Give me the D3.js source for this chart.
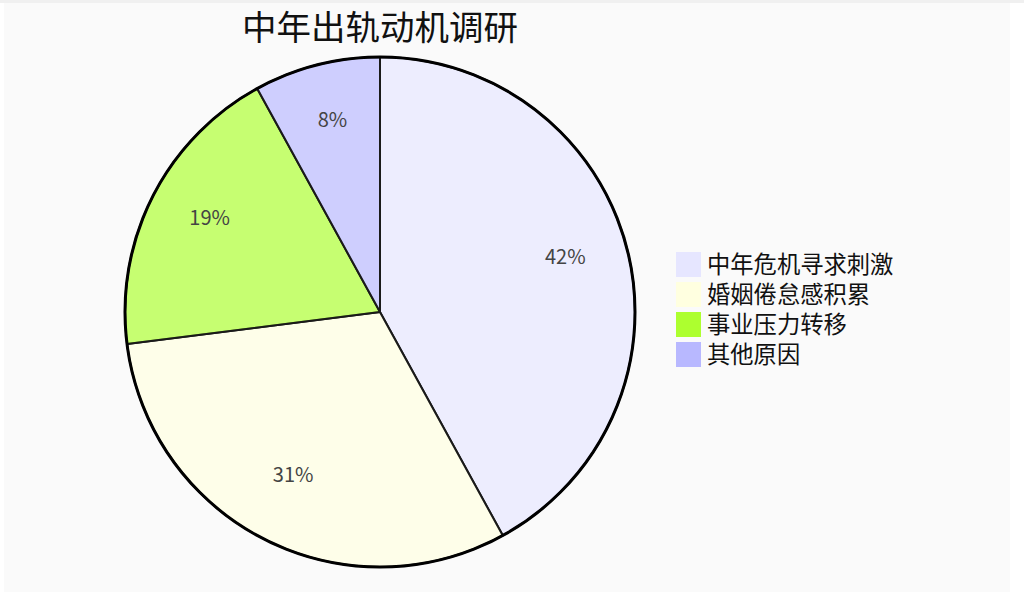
<!DOCTYPE html>
<html>
<head>
<meta charset="utf-8">
<script src="https://cdn.jsdelivr.net/npm/d3@7/dist/d3.min.js"></script>
<style>
html,body{margin:0;padding:0;background:#ffffff;}
svg{display:block;font-family:"Noto Sans CJK SC","Noto Sans",sans-serif;}
</style>
</head>
<body>
<svg id="chart" width="1024" height="597"></svg>
<script>
const title = "中年出轨动机调研";
const categories = ["中年危机寻求刺激", "婚姻倦怠感积累", "事业压力转移", "其他原因"];
const values = [42, 31, 19, 8];
const colors = ["#e6e6ff", "#ffffe0", "#adff2f", "#b8b8ff"];

const svg = d3.select("#chart");
svg.append("rect").attr("x", 0).attr("y", 0).attr("width", 1024).attr("height", 597).attr("fill", "#ffffff");
svg.append("rect").attr("x", 4).attr("y", 0).attr("width", 1006).attr("height", 592).attr("fill", "#fafafa");
svg.append("rect").attr("x", 0).attr("y", 0).attr("width", 1024).attr("height", 3).attr("fill", "#f0f0f0");

const cx = 380, cy = 312, R = 255;
const g = svg.append("g").attr("transform", `translate(${cx},${cy})`);

const data = categories.map((c, i) => ({ name: c, value: values[i], color: colors[i] }));
const pie = d3.pie().value(d => d.value).sort(null);
const arcs = pie(data);
const arc = d3.arc().innerRadius(0).outerRadius(R);
const labelArc = d3.arc().innerRadius(R * 0.75).outerRadius(R * 0.75);

g.selectAll("path.slice").data(arcs).enter().append("path")
  .attr("class", "slice")
  .attr("d", arc)
  .attr("fill", d => d.data.color)
  .attr("fill-opacity", 0.68)
  .attr("stroke", "#1a1a1a")
  .attr("stroke-width", 2)
  .attr("stroke-linejoin", "round");

g.append("circle").attr("r", R).attr("fill", "none").attr("stroke", "#000").attr("stroke-width", 3);

g.selectAll("text.lbl").data(arcs).enter().append("text")
  .attr("class", "lbl")
  .attr("transform", d => `translate(${labelArc.centroid(d)})`)
  .attr("text-anchor", "middle")
  .attr("font-size", 20)
  .attr("fill", "#444")
  .text(d => d.data.value + "%");

svg.append("text")
  .attr("x", cx).attr("y", 40)
  .attr("text-anchor", "middle")
  .attr("font-size", 34.5)
  .attr("fill", "#111")
  .text(title);

const legend = svg.append("g").attr("transform", "translate(676,252)");
const rows = legend.selectAll("g").data(data).enter().append("g")
  .attr("transform", (d, i) => `translate(0,${i * 30})`);
rows.append("rect").attr("width", 25).attr("height", 25).attr("fill", d => d.color);
rows.append("text").attr("x", 31).attr("y", 12.5).attr("dy", "0.36em")
  .attr("font-size", 23.3).attr("fill", "#111").text(d => d.name);
</script>
</body>
</html>
